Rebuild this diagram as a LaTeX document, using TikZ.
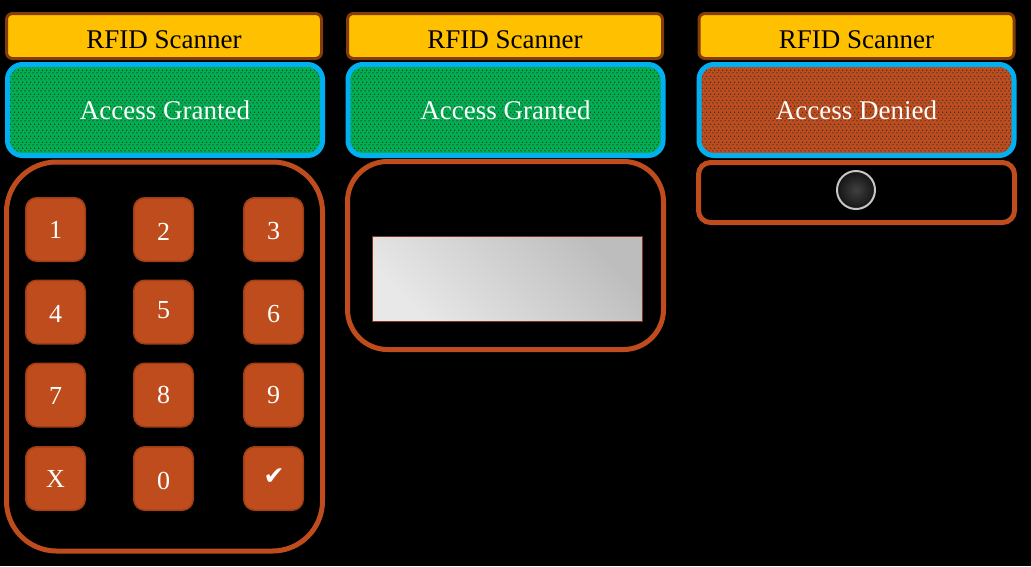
\documentclass[tikz,border=0pt]{standalone}
\usepackage{fontspec}
\setmainfont{Liberation Serif}
\newfontfamily\symfont{DejaVu Sans}
\usetikzlibrary{patterns}
\pgfdeclarepatternformonly{stagdots}{\pgfpointorigin}{\pgfqpoint{4pt}{6pt}}{\pgfqpoint{4pt}{6pt}}{%
  \pgfpathrectangle{\pgfqpoint{0.6pt}{0.6pt}}{\pgfqpoint{1.4pt}{1.4pt}}%
  \pgfpathrectangle{\pgfqpoint{2.6pt}{3.6pt}}{\pgfqpoint{1.4pt}{1.4pt}}%
  \pgfusepath{fill}}
\definecolor{hdrfill}{RGB}{255,192,0}
\definecolor{hdrline}{RGB}{132,60,12}
\definecolor{scrblue}{RGB}{0,176,240}
\definecolor{okgreen}{RGB}{0,176,80}
\definecolor{rust}{RGB}{191,76,28}
\definecolor{keyline}{RGB}{160,62,22}
\definecolor{cardline}{RGB}{130,50,30}
\tikzset{
  x=1pt, y=-1pt,
  bigtext/.style={font=\fontsize{27}{30}\selectfont},
  hdr/.style={draw=hdrline, line width=3pt, fill=hdrfill, rounded corners=6pt,
    minimum width=315pt, minimum height=45pt, inner sep=0pt, text=black, bigtext,
    text height=24pt, text depth=0pt},
  screen/.style={draw=scrblue, line width=5pt, rounded corners=15pt,
    pattern=stagdots, pattern color=black!80,
    minimum width=315pt, minimum height=91pt, inner sep=0pt, text=white, bigtext},
  okscreen/.style={screen, preaction={fill=okgreen}},
  noscreen/.style={screen, preaction={fill=rust}},
  panel/.style={draw=rust, line width=5pt, minimum width=316pt, inner sep=0pt},
  keybox/.style={draw=keyline, line width=1.5pt, fill=rust, rounded corners=11pt,
    minimum width=59.5pt, minimum height=63.5pt, inner sep=0pt},
  keytxt/.style={text=white, font=\fontsize{26}{28}\selectfont, inner sep=0pt},
}
\begin{document}
\begin{tikzpicture}
\fill[black] (0,0) rectangle (1031,566);
\useasboundingbox (0,0) rectangle (1031,566);

% column 1
\node[hdr] (h1) at (164,36) {RFID Scanner};
\node[okscreen] (s1) at (165,110) {Access Granted};
\node[panel, minimum height=389pt, rounded corners=50pt] (p1) at (164.5,356.5) {};

\foreach \lab/\cx/\cy/\ty [count=\i] in
  {1/55.5/229.5/230, 2/163.5/229.5/232, 3/273.5/229.5/231,
   4/55.5/312/314, 5/163.5/312/310, 6/273.5/312/314,
   7/55.5/395/396, 8/163.5/395/395, 9/273.5/395/395,
   X/55.5/478.5/479, 0/163.5/478.5/481}
{
  \node[keybox] (k\i) at (\cx,\cy) {};
  \node[keytxt] (t\i) at (\cx,\ty) {\lab};
}
\node[keybox] (k12) at (273.5,478.5) {};
\node[text=white, inner sep=0pt, font=\symfont\fontsize{25}{26}\selectfont] (t12) at (274,477) {✔};

% column 2
\node[hdr] (h2) at (505,36) {RFID Scanner};
\node[okscreen] (s2) at (505.5,110) {Access Granted};
\node[panel, minimum height=188pt, rounded corners=40pt] (p2) at (505.5,255.5) {};
\node[draw=cardline, line width=1.5pt, minimum width=270pt, minimum height=85pt,
      inner sep=0pt, top color=black!26, bottom color=black!9, shading angle=-45] (card) at (507.5,279) {};

% column 3
\node[hdr] (h3) at (856.5,36) {RFID Scanner};
\node[noscreen] (s3) at (856.5,110) {Access Denied};
\node[panel, minimum height=60pt, rounded corners=12pt] (p3) at (856.5,192.5) {};
\node[circle, draw=black!22, line width=2pt, minimum size=38pt, inner sep=0pt,
      inner color=black!75, outer color=black!92] (led) at (856,190) {};
\end{tikzpicture}
\end{document}
